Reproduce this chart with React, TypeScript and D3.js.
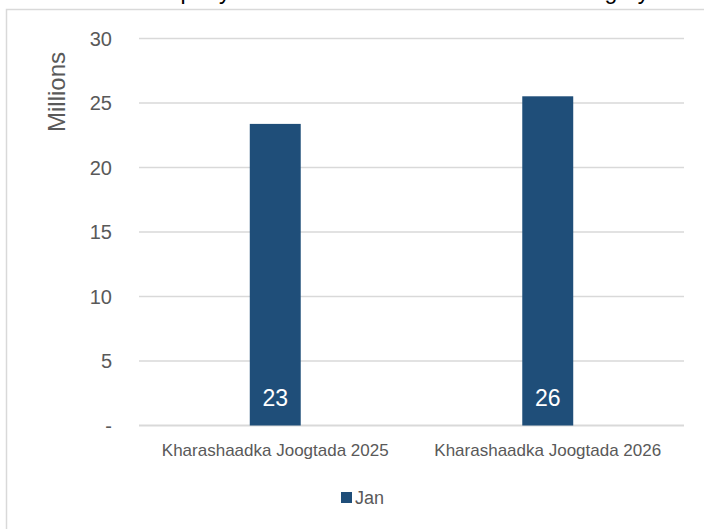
import React from "react";
import * as d3 from "d3";

const categories = ["Kharashaadka Joogtada 2025", "Kharashaadka Joogtada 2026"];
const seriesName = "Jan";
const janValues = [23380000, 25520000];
const yTicks = [0, 5, 10, 15, 20, 25, 30];
const titleText = "Company Total Annual Cost Across Each Category";

const W = 704;
const H = 529;
const FONT = "'Liberation Sans', Arial, sans-serif";
const GRAY = "#595959";
const GRID = "#d9d9d9";
const BAR = "#1f4e79";

export default function App() {
  const x = d3
    .scaleBand<string>()
    .domain(categories)
    .range([139, 684])
    .paddingInner(0.813)
    .paddingOuter(0.4065);
  const y = d3.scaleLinear().domain([0, 30]).range([425.5, 38.5]);
  const bw = x.bandwidth();

  return (
    <svg
      width={W}
      height={H}
      style={{ position: "absolute", left: 0, top: 0, background: "#fff" }}
      fontFamily={FONT}
    >
      <rect x={0} y={0} width={W} height={H} fill="#fff" />
      <text x={132} y={-1} fontSize={23} fill="#000">
        {titleText}
      </text>
      <rect x={6.5} y={9.5} width={W + 20} height={H + 20} fill="none" stroke={GRID} strokeWidth={1.5} />
      {yTicks.map((t) => (
        <g key={t}>
          <line
            x1={139}
            x2={684}
            y1={y(t)}
            y2={y(t)}
            stroke={GRID}
            strokeWidth={t === 0 ? 2 : 1.3}
          />
          <text
            x={112}
            y={y(t)}
            dy="0.36em"
            textAnchor="end"
            fontSize={20}
            fill={GRAY}
          >
            {t === 0 ? "-" : d3.format("d")(t)}
          </text>
        </g>
      ))}
      <text
        transform={`translate(65,92) rotate(-90)`}
        textAnchor="middle"
        fontSize={24}
        fill={GRAY}
      >
        Millions
      </text>
      {categories.map((c, i) => {
        const v = janValues[i] / 1e6;
        const bx = x(c) as number;
        return (
          <g key={c}>
            <rect x={bx} y={y(v)} width={bw} height={y(0) - y(v)} fill={BAR} />
            <text
              x={bx + bw / 2}
              y={406}
              textAnchor="middle"
              fontSize={23}
              fill="#fff"
            >
              {d3.format(".0f")(v)}
            </text>
            <text
              x={bx + bw / 2}
              y={456}
              textAnchor="middle"
              fontSize={17}
              fill={GRAY}
            >
              {c}
            </text>
          </g>
        );
      })}
      <rect x={341} y={492} width={11} height={11} fill={BAR} />
      <text x={355} y={504} fontSize={18} fill={GRAY}>
        {seriesName}
      </text>
    </svg>
  );
}
